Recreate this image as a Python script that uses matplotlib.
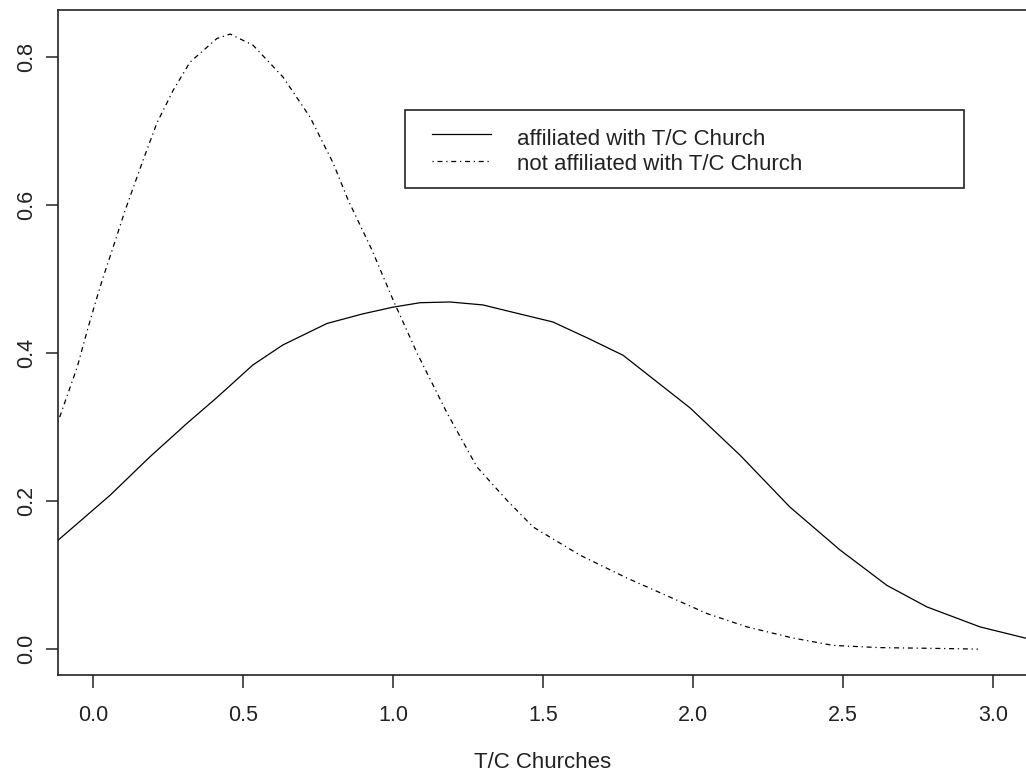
import numpy as np
import matplotlib
matplotlib.use("Agg")
import matplotlib.pyplot as plt
from matplotlib.patches import Rectangle

plt.rcParams['font.family'] = ['Liberation Sans', 'DejaVu Sans']

# density estimates, read off at the curve vertices
x_aff = [-0.117, 0.057, 0.19, 0.313, 0.413, 0.533, 0.633, 0.78, 0.9, 1.0,
         1.09, 1.19, 1.3, 1.38, 1.533, 1.65, 1.767, 1.99, 2.157, 2.323,
         2.49, 2.647, 2.78, 2.957, 3.117]
y_aff = [0.147, 0.208, 0.26, 0.305, 0.34, 0.384, 0.411, 0.44, 0.453, 0.462,
         0.468, 0.469, 0.465, 0.457, 0.442, 0.42, 0.397, 0.326, 0.262, 0.192,
         0.134, 0.086, 0.057, 0.030, 0.014]

x_not = [-0.117, -0.053, -0.017, 0.012, 0.034, 0.053, 0.107, 0.167, 0.213,
         0.267, 0.323, 0.413, 0.457, 0.533, 0.633, 0.723, 0.80, 0.85, 0.93,
         1.0, 1.08, 1.18, 1.28, 1.38, 1.467, 1.623, 1.78, 1.947, 2.047, 2.18,
         2.333, 2.467, 2.623, 2.8, 2.95]
y_not = [0.307, 0.381, 0.434, 0.474, 0.503, 0.526, 0.593, 0.661, 0.711,
         0.755, 0.793, 0.825, 0.831, 0.816, 0.773, 0.719, 0.657, 0.607, 0.539,
         0.472, 0.40, 0.319, 0.246, 0.201, 0.165, 0.127, 0.096, 0.066, 0.048,
         0.030, 0.015, 0.005, 0.002, 0.001, 0.0]

labels = ['affiliated with T/C Church', 'not affiliated with T/C Church']
x_ticks = [0.0, 0.5, 1.0, 1.5, 2.0, 2.5, 3.0]
y_ticks = [0.0, 0.2, 0.4, 0.6, 0.8]

solid = '-'
dotdash = (0, (1, 3, 4, 3))
ink = '#222222'

fig = plt.figure(figsize=(10.26, 7.75), dpi=100)
ax = fig.add_axes([58 / 1026, 1 - 675 / 775, 970 / 1026, 665 / 775])

ax.plot(x_aff, y_aff, color='black', lw=0.9, ls=solid)
ax.plot(x_not, y_not, color='black', lw=0.9, ls=dotdash)

ax.set_xlim(-0.117, 3.117)
ax.set_ylim(-0.035, 0.8635)
ax.set_xticks(x_ticks)
ax.set_yticks(y_ticks)
ax.set_xticklabels([f'{v:.1f}' for v in x_ticks])
ax.set_yticklabels([f'{v:.1f}' for v in y_ticks], rotation=90, va='center')
ax.tick_params(axis='both', direction='out', length=9, width=1.1,
               labelsize=15.5, colors=ink)
ax.tick_params(axis='x', pad=12.5)
ax.tick_params(axis='y', pad=6)
for s in ax.spines.values():
    s.set_linewidth(1.2)
    s.set_color(ink)
ax.set_xlabel('T/C Churches', fontsize=16, labelpad=19, color=ink)

# legend box drawn in axes coordinates
lx0, lx1 = 0.358, 0.934
ly0, ly1 = 0.732, 0.850
ax.add_patch(Rectangle((lx0, ly0), lx1 - lx0, ly1 - ly0, transform=ax.transAxes,
                       fill=False, edgecolor=ink, lw=1.2))
handle_rows = [0.8135, 0.7734]
text_rows = [0.797, 0.7594]
for lab, ls, yh, yt in zip(labels, [solid, dotdash], handle_rows, text_rows):
    ax.plot([0.386, 0.446], [yh, yh], transform=ax.transAxes,
            color='black', lw=0.9, ls=ls)
    ax.text(0.473, yt, lab, transform=ax.transAxes, fontsize=16,
            va='baseline', ha='left', color=ink)

fig.savefig('out.png', dpi=100)
